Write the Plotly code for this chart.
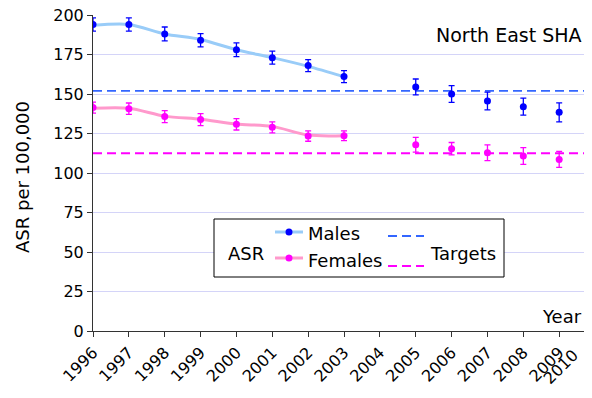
import plotly.graph_objects as go

years = list(range(1996, 2011))
tick_labels = [str(y) for y in years]

male_years = [1996, 1997, 1998, 1999, 2000, 2001, 2002, 2003, 2005, 2006, 2007, 2008, 2009]
male_asr = [194, 194, 188, 184, 178, 173, 168, 161, 154.5, 150, 145.6, 142, 138.4]
male_err = [4.2, 4.2, 4.4, 4.2, 4.3, 4.1, 3.8, 3.8, 5.0, 5.3, 5.6, 5.4, 6.0]

female_years = male_years
female_asr = [141.4, 140.7, 135.7, 133.8, 130.8, 128.9, 123.4, 123.6, 117.9, 115.4, 112.8, 110.7, 108.6]
female_err = [3.5, 3.6, 3.8, 3.8, 3.6, 3.5, 3.3, 3.1, 4.7, 3.9, 5.0, 5.3, 5.1]

trend_years = [1996, 1997, 1998, 1999, 2000, 2001, 2002, 2003]
male_trend = [193.5, 194, 188, 184.5, 178, 173, 167.5, 161]
female_trend = [141, 141, 136, 134, 131, 129.5, 124, 123.6]

target_years = [1996, 2010]
male_target = [152, 152]
female_target = [112.5, 112.5]

MALE_C = "#0000ff"
FEMALE_C = "#ff00ff"
MALE_LINE = "#99ccf8"
FEMALE_LINE = "#ff99cc"
MALE_TGT = "#3366ff"
FEMALE_TGT = "#ff00ff"
FONT = "DejaVu Sans"

fig = go.Figure()

fig.add_trace(go.Scatter(x=target_years, y=male_target, mode="lines",
                         line=dict(color=MALE_TGT, width=1.8, dash="9px,5px"), hoverinfo="skip"))
fig.add_trace(go.Scatter(x=target_years, y=female_target, mode="lines",
                         line=dict(color=FEMALE_TGT, width=1.8, dash="9px,5px"), hoverinfo="skip"))
fig.add_trace(go.Scatter(x=trend_years, y=male_trend, mode="lines",
                         line=dict(color=MALE_LINE, width=3, shape="spline", smoothing=0.8)))
fig.add_trace(go.Scatter(x=trend_years, y=female_trend, mode="lines",
                         line=dict(color=FEMALE_LINE, width=3, shape="spline", smoothing=0.8)))
fig.add_trace(go.Scatter(x=male_years, y=male_asr, mode="markers",
                         marker=dict(color=MALE_C, size=7),
                         error_y=dict(type="data", array=male_err, color=MALE_C, thickness=1.3, width=3)))
fig.add_trace(go.Scatter(x=female_years, y=female_asr, mode="markers",
                         marker=dict(color=FEMALE_C, size=7),
                         error_y=dict(type="data", array=female_err, color=FEMALE_C, thickness=1.3, width=3)))

# the page shows the figure offset by an 8px body margin and clips at x=584
OFF = 8
FIG_W, FIG_H = 576, 390
L, R, T, B = 93, 584, 15, 331   # reference pixel positions of plot area
STEP = 35.86                    # pixels per year in the reference
W = R - L
H = B - T
x_end = years[0] + W / STEP

def px(x):
    return (x - L) / W

def py(y):
    return (B - y) / H

shapes = []
annotations = []
# custom legend box
shapes.append(dict(type="rect", xref="paper", yref="paper", x0=px(214), x1=px(504), y0=py(277), y1=py(219),
                   line=dict(color="black", width=1), fillcolor="white", layer="above"))
for yy, lc, mc in [(232, MALE_LINE, MALE_C), (258, FEMALE_LINE, FEMALE_C)]:
    shapes.append(dict(type="line", xref="paper", yref="paper", x0=px(275), x1=px(303), y0=py(yy), y1=py(yy),
                       line=dict(color=lc, width=3), layer="above"))
    shapes.append(dict(type="circle", xref="paper", yref="paper", x0=px(285.5), x1=px(292.5),
                       y0=py(yy + 3.5), y1=py(yy - 3.5), line=dict(color=mc, width=0), fillcolor=mc, layer="above"))
for yy, c in [(236, MALE_TGT), (266, FEMALE_TGT)]:
    shapes.append(dict(type="line", xref="paper", yref="paper", x0=px(388), x1=px(424), y0=py(yy), y1=py(yy),
                       line=dict(color=c, width=1.8, dash="9px,5px"), layer="above"))

def txt(text, x, y, xanchor="left", size=18, angle=0, yanchor="middle"):
    annotations.append(dict(text=text, xref="paper", yref="paper", x=x, y=y, xanchor=xanchor, yanchor=yanchor,
                            showarrow=False, textangle=angle,
                            font=dict(family=FONT, size=size, color="black")))

txt("ASR", px(246), py(253), "center")
txt("Males", px(306), py(233))
txt("Females", px(306), py(260))
txt("Targets", px(428), py(253))
txt("Year", px(584), py(316), "right")
txt("North East SHA", px(584), py(35), "right", size=19)
txt("ASR per 100,000", px(22), py(177), "center", size=18, angle=-90)
# last tick label (its tick sits just beyond the visible edge)
txt(tick_labels[-1], px(585), py(342), "right", size=16, angle=-45, yanchor="top")

fig.update_layout(
    width=FIG_W, height=FIG_H,
    margin=dict(l=L - OFF, r=FIG_W - (R - OFF), t=T - OFF, b=FIG_H - (B - OFF), autoexpand=False),
    paper_bgcolor="white", plot_bgcolor="white",
    showlegend=False,
    font=dict(family=FONT, size=16, color="black"),
    shapes=shapes, annotations=annotations,
)
fig.update_xaxes(
    range=[years[0], x_end], tickmode="array", tickvals=years, ticktext=tick_labels, tickangle=-45,
    showgrid=False, zeroline=False, showline=True, linecolor="#333333", linewidth=1,
    ticks="outside", ticklen=5, tickcolor="#333333", tickfont=dict(family=FONT, size=16),
    automargin=False, ticklabeloverflow="allow",
)
fig.update_yaxes(
    range=[0, 200], tickmode="array", tickvals=list(range(0, 201, 25)),
    showgrid=True, gridcolor="#d4d4f8", gridwidth=1, zeroline=False,
    showline=True, linecolor="#333333", linewidth=1,
    ticks="outside", ticklen=5, tickcolor="#333333", tickfont=dict(family=FONT, size=16),
    automargin=False, ticklabeloverflow="allow",
)

fig.write_html("out.html")
